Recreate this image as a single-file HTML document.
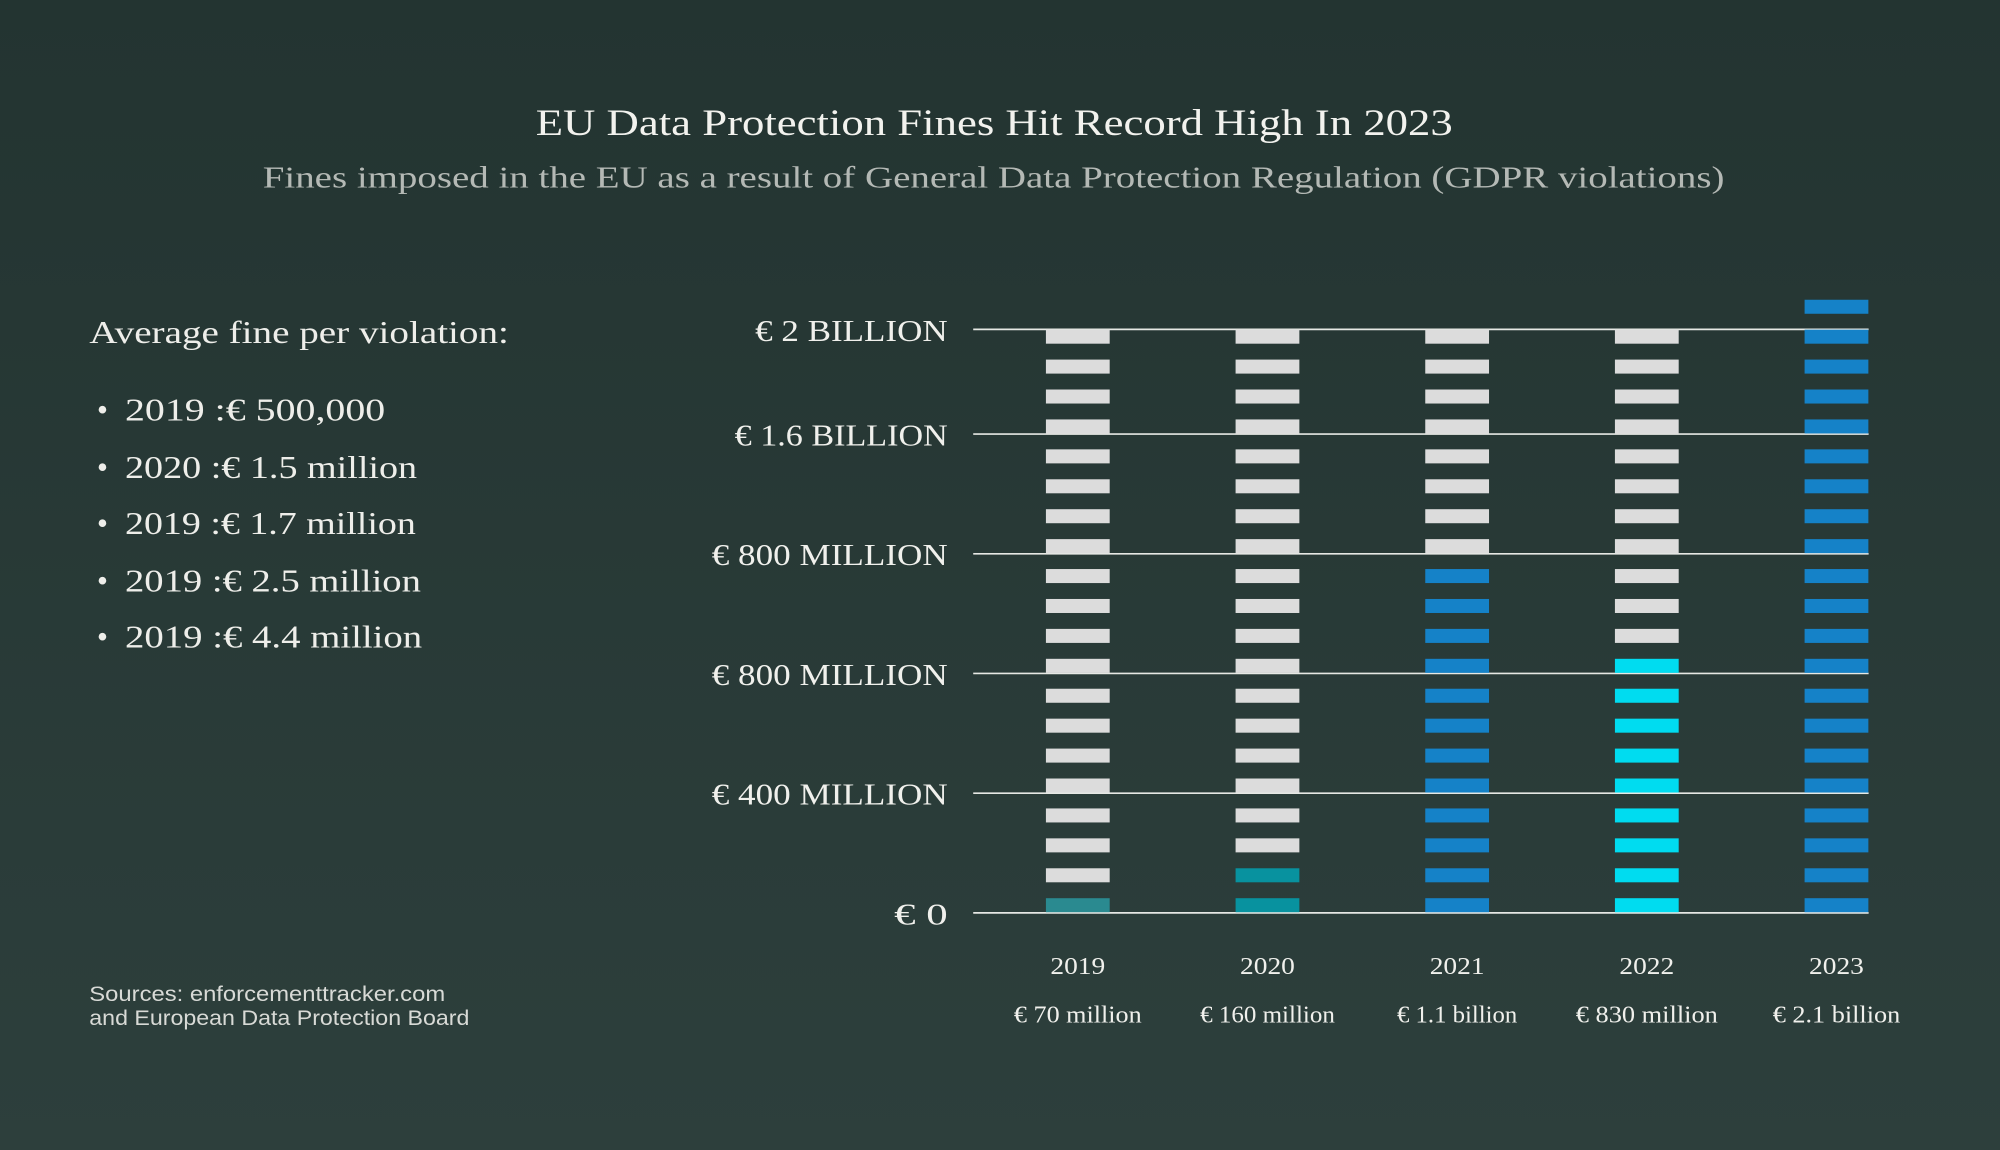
<!DOCTYPE html>
<html><head><meta charset="utf-8"><style>
html,body{margin:0;padding:0;width:2000px;height:1150px;overflow:hidden;background:#263733}
svg{display:block}
.serif{font-family:"Liberation Serif",serif}
.sans{font-family:"Liberation Sans",sans-serif}
</style></head><body>
<svg id="chart" width="2000" height="1150" viewBox="0 0 1568 902" preserveAspectRatio="none">
<defs><linearGradient id="bg" x1="0" y1="0" x2="0" y2="1"><stop offset="0" stop-color="#233431"/><stop offset="1" stop-color="#2d3f3c"/></linearGradient></defs>
<rect width="1568" height="902" fill="url(#bg)"/>
<text x="420" y="106" textLength="719" lengthAdjust="spacingAndGlyphs" class="serif" font-size="29" fill="#f2f2ee">EU Data Protection Fines Hit Record High In 2023</text>
<text x="206" y="147" textLength="1146" lengthAdjust="spacingAndGlyphs" class="serif" font-size="24" fill="#b4b9b5">Fines imposed in the EU as a result of General Data Protection Regulation (GDPR violations)</text>
<g>
<text x="70" y="269" textLength="329" lengthAdjust="spacingAndGlyphs" class="serif" font-size="25" fill="#eeeeea">Average fine per violation:</text>
<g class="serif" font-size="25" fill="#eeeeea">
<text x="76" y="330">•</text>
<text x="98" y="330" textLength="204" lengthAdjust="spacingAndGlyphs">2019  :€ 500,000</text>
<text x="76" y="375">•</text>
<text x="98" y="375" textLength="229" lengthAdjust="spacingAndGlyphs">2020 :€ 1.5 million</text>
<text x="76" y="419">•</text>
<text x="98" y="419" textLength="228" lengthAdjust="spacingAndGlyphs">2019  :€ 1.7 million</text>
<text x="76" y="464">•</text>
<text x="98" y="464" textLength="232" lengthAdjust="spacingAndGlyphs">2019  :€ 2.5 million</text>
<text x="76" y="508">•</text>
<text x="98" y="508" textLength="233" lengthAdjust="spacingAndGlyphs">2019  :€ 4.4 million</text>
</g></g>
<text x="70" y="785" textLength="279" lengthAdjust="spacingAndGlyphs" class="sans" font-size="17" fill="#d8dad6">Sources: enforcementtracker.com</text>
<text x="70" y="804" textLength="298" lengthAdjust="spacingAndGlyphs" class="sans" font-size="17" fill="#d8dad6">and European Data Protection Board</text>
<g id="grid"></g><g id="bars"></g><g id="xlabels"></g>
</svg>
<script>
const years = ["2019","2020","2021","2022","2023"];
const valueLabels = ["€ 70 million","€ 160 million","€ 1.1 billion","€ 830 million","€ 2.1 billion"];
const filledBlocks = [1, 2, 12, 9, 21];
const tickLabels = ["€ 0","€ 400 MILLION","€ 800 MILLION","€ 800 MILLION","€ 1.6 BILLION","€ 2 BILLION"];
const tickBlocks = [0, 4, 8, 12, 16, 19.5];
const colors = ["#2a8a90","#08929f","#1582c8","#00dcf0","#1582c8"];

const NS="http://www.w3.org/2000/svg";
const baseY=716, step=23.47, totalBlocks=20;
const yOf = b => baseY - b*step;
const xOf = i => 845 + i*148.7;
function mk(tag,attrs,parent){const e=document.createElementNS(NS,tag);for(const k in attrs)e.setAttribute(k,attrs[k]);parent.appendChild(e);return e;}
function fitWidth(el,w){el.setAttribute('textLength',w);el.setAttribute('lengthAdjust','spacingAndGlyphs');}
function estWidth(s,per,narrow){let w=0;for(const c of s){w+= (c==='.'||c===' '||c==='1'||c==='I'||c==='l'||c==='i')?narrow:per;}return w;}
const grid=document.getElementById('grid'),bars=document.getElementById('bars'),xl=document.getElementById('xlabels');
tickLabels.forEach((t,i)=>{
  const y=yOf(tickBlocks[i]);
  const l=mk('line',{x1:763,x2:1465,y1:y,y2:y,stroke:"#e6e8e4","stroke-width":1.3},grid);
  
  
  const tx=mk('text',{x:743,y:y+9,"text-anchor":"end",class:"serif","font-size":24,fill:"#f0f0ec"},grid);
  tx.textContent=t;
  
  
  fitWidth(tx, estWidth(t,17,8));
});
years.forEach((yr,i)=>{
  const n=Math.max(totalBlocks,filledBlocks[i]);
  for(let b=0;b<n;b++){
    const filled=b<filledBlocks[i];
    const r=mk('rect',{x:xOf(i)-25,y:yOf(b)-11.5,width:50,height:11,fill:filled?colors[i]:"#dcdcdc"},bars);
    
    
  }
  const t1=mk('text',{x:xOf(i),y:764,"text-anchor":"middle",class:"serif","font-size":19,fill:"#f0f0ec"},xl);
  t1.textContent=yr;
  
  
  fitWidth(t1, 43);
  const t2=mk('text',{x:xOf(i),y:802,"text-anchor":"middle",class:"serif","font-size":19,fill:"#f0f0ec"},xl);
  t2.textContent=valueLabels[i];
  
  
  fitWidth(t2, estWidth(valueLabels[i],11.2,5.5));
});
</script>
</body></html>
